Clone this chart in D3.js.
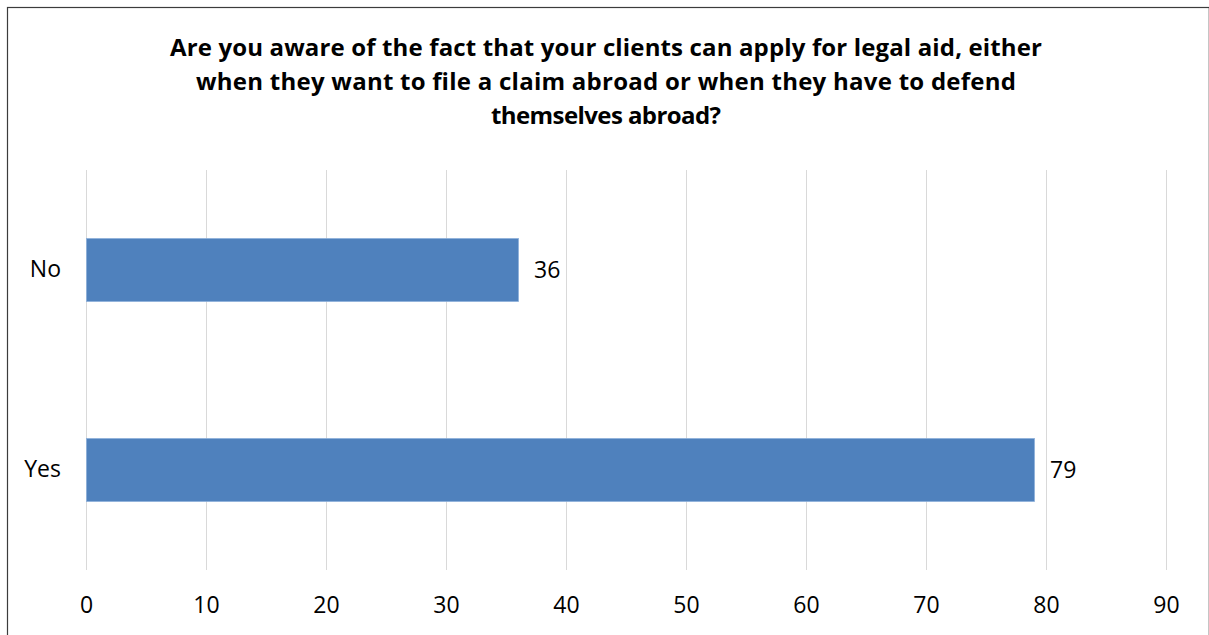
<!DOCTYPE html>
<html>
<head>
<meta charset="utf-8">
<script src="https://cdn.jsdelivr.net/npm/d3@7"></script>
<style>
  html, body { margin: 0; padding: 0; background: #fff; }
  svg { display: block; }
  text { font-family: "Open Sans", Lato, sans-serif; fill: #000; }
</style>
</head>
<body>
<svg id="chart" width="1209" height="635"></svg>
<script>
// Survey answers and counts
const categories = ["No", "Yes"];
const values = [36, 79];
const xTicks = [0, 10, 20, 30, 40, 50, 60, 70, 80, 90];
const titleLines = [
  "Are you aware of the fact that your clients can apply for legal aid, either",
  "when they want to file a claim abroad or when they have to defend",
  "themselves abroad?"
];
// Set width of each title line, in px
const titleWidths = [872, 820, 230];

const svg = d3.select("#chart");
const plot = { left: 86, right: 1166, top: 170, bottom: 570 };
const font = "'Open Sans', Lato, sans-serif";

// Outer chart frame
svg.append("rect")
  .attr("x", 7.5).attr("y", 7.5)
  .attr("width", 1201.8).attr("height", 700)
  .attr("fill", "none").attr("stroke", "#3c3c3c").attr("stroke-width", 1.2);

// Title
const title = svg.append("text")
  .attr("text-anchor", "middle")
  .style("font-weight", "bold")
  .style("font-size", "24px");
titleLines.forEach((line, i) => {
  title.append("tspan")
    .attr("x", 606)
    .attr("y", 56 + i * 34)
    .attr("textLength", titleWidths[i])
    .attr("lengthAdjust", "spacing")
    .text(line);
});

const x = d3.scaleLinear().domain([0, 90]).range([plot.left, plot.right]);
const y = d3.scaleBand().domain(categories).range([plot.top, plot.bottom]).paddingInner(0.685).paddingOuter(0.3425);

// Vertical gridlines
svg.append("g")
  .selectAll("line")
  .data(xTicks)
  .join("line")
  .attr("x1", d => Math.round(x(d)) + 0.5)
  .attr("x2", d => Math.round(x(d)) + 0.5)
  .attr("y1", plot.top)
  .attr("y2", plot.bottom)
  .attr("stroke", "#d9d9d9")
  .attr("stroke-width", 1);

// Bars
svg.append("g")
  .selectAll("rect")
  .data(categories)
  .join("rect")
  .attr("x", x(0) + 0.5)
  .attr("y", d => y(d))
  .attr("width", (d, i) => x(values[i]) - x(0))
  .attr("height", y.bandwidth())
  .attr("fill", "#4f81bd")
  .attr("stroke", "#8db0da")
  .attr("stroke-width", 0.8);

// Value labels
svg.append("g")
  .selectAll("text")
  .data(categories)
  .join("text")
  .attr("x", (d, i) => x(values[i]) + 16)
  .attr("y", d => y(d) + y.bandwidth() / 2)
  .attr("dy", "0.35em")
  .style("font-size", "23px")
  .text((d, i) => values[i]);

// Category axis labels
const yAxis = d3.axisLeft(y).tickSize(0).tickPadding(25);
const gy = svg.append("g").attr("transform", `translate(${plot.left},0)`).call(yAxis);
gy.select(".domain").remove();
gy.selectAll("text")
  .style("font-size", "23px")
  .style("font-family", font)
  .attr("fill", "#000");

// Value axis labels
const xAxis = d3.axisBottom(x).tickValues(xTicks).tickSize(0).tickPadding(27);
const gx = svg.append("g").attr("transform", `translate(0,${plot.bottom})`).call(xAxis);
gx.select(".domain").remove();
gx.selectAll("text")
  .style("font-size", "23px")
  .style("font-family", font)
  .attr("fill", "#000");
</script>
</body>
</html>
